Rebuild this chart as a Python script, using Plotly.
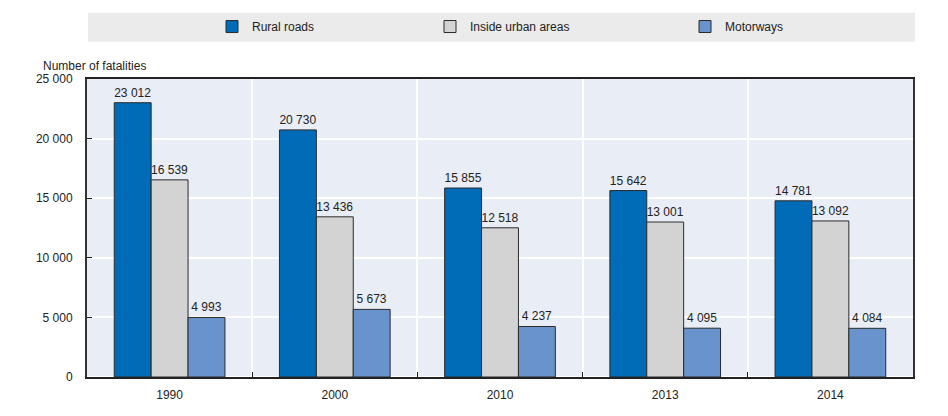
import plotly.graph_objects as go

# Road fatalities by road type
years = ["1990", "2000", "2010", "2013", "2014"]
rural_roads = [23012, 20730, 15855, 15642, 14781]
urban_areas = [16539, 13436, 12518, 13001, 13092]
motorways = [4993, 5673, 4237, 4095, 4084]

series = [
    ("Rural roads", rural_roads, "#006bb6", "legend"),
    ("Inside urban areas", urban_areas, "#d3d3d3", "legend2"),
    ("Motorways", motorways, "#6993cc", "legend3"),
]

FONT = "Liberation Sans, Arial, sans-serif"

fig = go.Figure()
for name, vals, color, leg in series:
    fig.add_trace(go.Bar(
        x=years, y=vals, name=name, legend=leg,
        marker=dict(color=color, line=dict(color="#2b2b2b", width=1)),
        text=vals, texttemplate="%{y:,}", textposition="outside",
        constraintext="none", cliponaxis=False,
        textfont=dict(size=12, color="#222222"),
    ))

W, H = 948, 416
ml, mr, mt, mb = 87, 35, 76, 39
pw, ph = W - ml - mr, H - mt - mb

def px_x(px):
    return (px - ml) / pw

def px_y(py):
    return 1 + (mt - py) / ph

def leg_cfg(px):
    return dict(x=px_x(px), y=px_y(23), xanchor="left", yanchor="middle",
                orientation="h", bgcolor="rgba(0,0,0,0)",
                font=dict(size=12, color="#222222", family=FONT),
                itemwidth=30, tracegroupgap=0)

fig.update_layout(
    width=W, height=H,
    margin=dict(l=ml, r=mr, t=mt, b=mb),
    paper_bgcolor="white",
    plot_bgcolor="#e9edf6",
    separators=". ",
    font=dict(family=FONT, size=12, color="#222222"),
    barmode="group",
    bargap=0.33,
    bargroupgap=0,
    showlegend=True,
    legend=leg_cfg(212),
    legend2=leg_cfg(430),
    legend3=leg_cfg(685),
    xaxis=dict(
        type="category", tickson="boundaries", ticks="inside", ticklen=5,
        tickcolor="#222222", showgrid=True, gridcolor="white", gridwidth=1.5,
        showline=True, linecolor="#222222", linewidth=2, mirror=True,
        tickfont=dict(size=12), ticklabelstandoff=6,
    ),
    yaxis=dict(
        range=[0, 25000], dtick=5000, tickformat=",", ticks="inside", ticklen=5,
        tickcolor="#222222", showgrid=True, gridcolor="white", gridwidth=1.5,
        showline=True, linecolor="#333333", linewidth=2, mirror=True,
        tickfont=dict(size=12), ticklabelstandoff=10,
    ),
    shapes=[dict(type="rect", xref="paper", yref="paper",
                 x0=px_x(88), x1=px_x(915), y0=px_y(38), y1=px_y(9),
                 fillcolor="#ebebeb", line=dict(width=0), layer="below")],
    annotations=[dict(text="Number of fatalities", xref="paper", yref="paper",
                      x=px_x(41), y=px_y(63), xanchor="left", yanchor="middle",
                      showarrow=False, font=dict(size=12, color="#222222"))],
)

fig.write_html("out.html", config={"displayModeBar": False},
               post_script="document.body.style.margin='0';")
